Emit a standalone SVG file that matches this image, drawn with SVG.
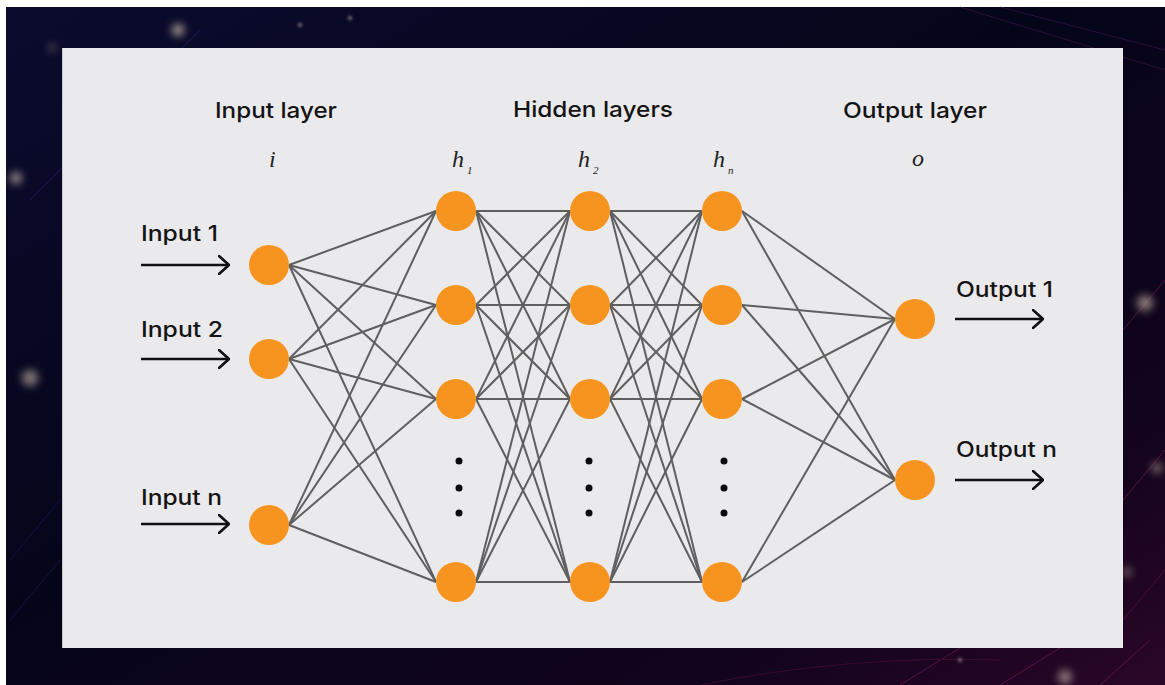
<svg xmlns="http://www.w3.org/2000/svg" width="1165" height="685" viewBox="0 0 1165 685">
  <defs>
    <linearGradient id="bg" x1="0" y1="0" x2="1" y2="1">
      <stop offset="0" stop-color="#0b0b2e"/>
      <stop offset="0.45" stop-color="#05051a"/>
      <stop offset="0.8" stop-color="#12041c"/>
      <stop offset="1" stop-color="#2a0628"/>
    </linearGradient>
    <filter id="blur" x="-2" y="-2" width="5" height="5">
      <feGaussianBlur stdDeviation="4"/>
    </filter>
    <filter id="blur2" x="-1" y="-1" width="3" height="3">
      <feGaussianBlur stdDeviation="1.5"/>
    </filter>
    <marker id="arr" viewBox="0 0 12 20" refX="11" refY="10" markerWidth="12" markerHeight="20" markerUnits="userSpaceOnUse" orient="auto">
      <polyline points="1,1 11,10 1,19" fill="none" stroke="#111" stroke-width="2.6" stroke-linecap="round" stroke-linejoin="round"/>
    </marker>
    <style>
      .title { font-family: Inter, "Liberation Sans", sans-serif; font-weight: 500; font-size: 22px; fill: #141414; }
      .lbl { font-family: Inter, "Liberation Sans", sans-serif; font-weight: 500; font-size: 21px; fill: #141414; }
      .math { font-family: "Liberation Serif", "DejaVu Serif", serif; font-style: italic; font-size: 24px; fill: #222; }
      .sub { font-family: "Liberation Serif", "DejaVu Serif", serif; font-style: italic; font-size: 11px; fill: #222; }
      .node { fill: #F7941F; }
      .dot { fill: #0a0a0a; }
      .edge { stroke: #5f5f5f; stroke-width: 2; fill: none; }
      .arrow { stroke: #111; stroke-width: 2.6; fill: none; }
      .streak { stroke-width: 1; fill: none; }
    </style>
  </defs>

  <!-- background -->
  <rect x="0" y="0" width="1165" height="685" fill="#ffffff"/>
  <rect x="6" y="7" width="1159" height="678" fill="url(#bg)"/>
  <g class="streak" opacity="0.55">
    <line x1="30" y1="200" x2="200" y2="30" stroke="#2a2a8a"/>
    <line x1="10" y1="560" x2="60" y2="500" stroke="#2a1a60"/>
    <line x1="10" y1="620" x2="60" y2="560" stroke="#2a1a60"/>
    <line x1="1123" y1="330" x2="1165" y2="280" stroke="#8a1a6a"/>
    <line x1="1123" y1="500" x2="1165" y2="450" stroke="#8a1a6a"/>
    <line x1="1123" y1="620" x2="1165" y2="570" stroke="#6a1050"/>
    <line x1="900" y1="685" x2="960" y2="648" stroke="#8a1a6a"/>
    <line x1="1000" y1="685" x2="1060" y2="648" stroke="#8a1a6a"/>
    <line x1="1100" y1="685" x2="1150" y2="640" stroke="#8a1a6a"/>
    <path d="M700 685 Q 850 655 1000 660" stroke="#5a1040"/>
    <path d="M960 7 L1165 70" stroke="#4a1a50"/>
    <path d="M1000 7 L1165 50" stroke="#4a1a50"/>
  </g>
  <g fill="#d8c8b0">
    <circle cx="178" cy="30" r="6" filter="url(#blur)" opacity="0.8"/>
    <circle cx="52" cy="48" r="3" filter="url(#blur)" opacity="0.6"/>
    <circle cx="16" cy="178" r="6" filter="url(#blur)" opacity="0.7"/>
    <circle cx="30" cy="378" r="8" filter="url(#blur)" opacity="0.6"/>
    <circle cx="300" cy="25" r="2" filter="url(#blur2)" opacity="0.6"/>
    <circle cx="350" cy="18" r="2" filter="url(#blur2)" opacity="0.6"/>
    <circle cx="1145" cy="303" r="8" filter="url(#blur)" opacity="0.6"/>
    <circle cx="1157" cy="468" r="5" filter="url(#blur)" opacity="0.6"/>
    <circle cx="1127" cy="572" r="4" filter="url(#blur)" opacity="0.6"/>
    <circle cx="1065" cy="677" r="7" filter="url(#blur)" opacity="0.6"/>
    <circle cx="960" cy="660" r="2" filter="url(#blur2)" opacity="0.6"/>
  </g>

  <!-- panel -->
  <rect x="62" y="48" width="1061" height="600" fill="#EAEAEC"/>
  <line x1="62.5" y1="48" x2="62.5" y2="648" stroke="#c8c8cc" stroke-width="1"/>

  <!-- headings -->
  <g id="headings">
    <text class="title" x="215" y="118" textLength="122" lengthAdjust="spacingAndGlyphs">Input layer</text>
    <text class="title" x="513" y="117" textLength="160" lengthAdjust="spacingAndGlyphs">Hidden layers</text>
    <text class="title" x="843" y="118" textLength="144" lengthAdjust="spacingAndGlyphs">Output layer</text>
    <text class="math" x="269" y="167">i</text>
    <text class="math" x="452" y="167">h</text><text class="sub" x="467" y="174">1</text>
    <text class="math" x="578" y="167">h</text><text class="sub" x="593" y="174">2</text>
    <text class="math" x="713" y="167">h</text><text class="sub" x="728" y="174">n</text>
    <text class="math" x="912" y="166">o</text>
  </g>

  <!-- connectors -->
  <g id="connectors" class="edge">
    <!-- input -> h1 -->
    <line x1="289" y1="265" x2="436" y2="211"/>
    <line x1="289" y1="265" x2="436" y2="305"/>
    <line x1="289" y1="265" x2="436" y2="399"/>
    <line x1="289" y1="265" x2="436" y2="582"/>
    <line x1="289" y1="359" x2="436" y2="211"/>
    <line x1="289" y1="359" x2="436" y2="305"/>
    <line x1="289" y1="359" x2="436" y2="399"/>
    <line x1="289" y1="359" x2="436" y2="582"/>
    <line x1="289" y1="525" x2="436" y2="211"/>
    <line x1="289" y1="525" x2="436" y2="305"/>
    <line x1="289" y1="525" x2="436" y2="399"/>
    <line x1="289" y1="525" x2="436" y2="582"/>
    <!-- h1 -> h2 -->
    <line x1="476" y1="211" x2="570" y2="211"/>
    <line x1="476" y1="211" x2="570" y2="305"/>
    <line x1="476" y1="211" x2="570" y2="399"/>
    <line x1="476" y1="211" x2="570" y2="582"/>
    <line x1="476" y1="305" x2="570" y2="211"/>
    <line x1="476" y1="305" x2="570" y2="305"/>
    <line x1="476" y1="305" x2="570" y2="399"/>
    <line x1="476" y1="305" x2="570" y2="582"/>
    <line x1="476" y1="399" x2="570" y2="211"/>
    <line x1="476" y1="399" x2="570" y2="305"/>
    <line x1="476" y1="399" x2="570" y2="399"/>
    <line x1="476" y1="399" x2="570" y2="582"/>
    <line x1="476" y1="582" x2="570" y2="211"/>
    <line x1="476" y1="582" x2="570" y2="305"/>
    <line x1="476" y1="582" x2="570" y2="399"/>
    <line x1="476" y1="582" x2="570" y2="582"/>
    <!-- h2 -> hn -->
    <line x1="610" y1="211" x2="702" y2="211"/>
    <line x1="610" y1="211" x2="702" y2="305"/>
    <line x1="610" y1="211" x2="702" y2="399"/>
    <line x1="610" y1="211" x2="702" y2="582"/>
    <line x1="610" y1="305" x2="702" y2="211"/>
    <line x1="610" y1="305" x2="702" y2="305"/>
    <line x1="610" y1="305" x2="702" y2="399"/>
    <line x1="610" y1="305" x2="702" y2="582"/>
    <line x1="610" y1="399" x2="702" y2="211"/>
    <line x1="610" y1="399" x2="702" y2="305"/>
    <line x1="610" y1="399" x2="702" y2="399"/>
    <line x1="610" y1="399" x2="702" y2="582"/>
    <line x1="610" y1="582" x2="702" y2="211"/>
    <line x1="610" y1="582" x2="702" y2="305"/>
    <line x1="610" y1="582" x2="702" y2="399"/>
    <line x1="610" y1="582" x2="702" y2="582"/>
    <!-- hn -> output -->
    <line x1="742" y1="211" x2="895" y2="319"/>
    <line x1="742" y1="211" x2="895" y2="480"/>
    <line x1="742" y1="305" x2="895" y2="319"/>
    <line x1="742" y1="305" x2="895" y2="480"/>
    <line x1="742" y1="399" x2="895" y2="319"/>
    <line x1="742" y1="399" x2="895" y2="480"/>
    <line x1="742" y1="582" x2="895" y2="319"/>
    <line x1="742" y1="582" x2="895" y2="480"/>
  </g>

  <!-- input/output arrows -->
  <g id="io-arrows">
    <line class="arrow" x1="141" y1="265" x2="229" y2="265" marker-end="url(#arr)"/>
    <line class="arrow" x1="141" y1="359" x2="229" y2="359" marker-end="url(#arr)"/>
    <line class="arrow" x1="141" y1="524" x2="229" y2="524" marker-end="url(#arr)"/>
    <line class="arrow" x1="955" y1="319" x2="1043" y2="319" marker-end="url(#arr)"/>
    <line class="arrow" x1="955" y1="480" x2="1043" y2="480" marker-end="url(#arr)"/>
  </g>
  <g id="io-labels">
    <text class="lbl" x="141" y="241" textLength="77" lengthAdjust="spacingAndGlyphs">Input 1</text>
    <text class="lbl" x="141" y="337" textLength="82" lengthAdjust="spacingAndGlyphs">Input 2</text>
    <text class="lbl" x="141" y="505" textLength="81" lengthAdjust="spacingAndGlyphs">Input n</text>
    <text class="lbl" x="956" y="297" textLength="97" lengthAdjust="spacingAndGlyphs">Output 1</text>
    <text class="lbl" x="956" y="457" textLength="101" lengthAdjust="spacingAndGlyphs">Output n</text>
  </g>

  <!-- nodes -->
  <g id="node-in1"><circle class="node" cx="269" cy="265" r="20"/></g>
  <g id="node-in2"><circle class="node" cx="269" cy="359" r="20"/></g>
  <g id="node-inn"><circle class="node" cx="269" cy="525" r="20"/></g>

  <g id="node-h1-1"><circle class="node" cx="456" cy="211" r="20"/></g>
  <g id="node-h1-2"><circle class="node" cx="456" cy="305" r="20"/></g>
  <g id="node-h1-3"><circle class="node" cx="456" cy="399" r="20"/></g>
  <g id="node-h1-dots"><circle class="dot" cx="459" cy="461" r="3.5"/><circle class="dot" cx="459" cy="488" r="3.5"/><circle class="dot" cx="459" cy="513" r="3.5"/></g>
  <g id="node-h1-n"><circle class="node" cx="456" cy="582" r="20"/></g>

  <g id="node-h2-1"><circle class="node" cx="590" cy="211" r="20"/></g>
  <g id="node-h2-2"><circle class="node" cx="590" cy="305" r="20"/></g>
  <g id="node-h2-3"><circle class="node" cx="590" cy="399" r="20"/></g>
  <g id="node-h2-dots"><circle class="dot" cx="589" cy="461" r="3.5"/><circle class="dot" cx="589" cy="488" r="3.5"/><circle class="dot" cx="589" cy="513" r="3.5"/></g>
  <g id="node-h2-n"><circle class="node" cx="590" cy="582" r="20"/></g>

  <g id="node-hn-1"><circle class="node" cx="722" cy="211" r="20"/></g>
  <g id="node-hn-2"><circle class="node" cx="722" cy="305" r="20"/></g>
  <g id="node-hn-3"><circle class="node" cx="722" cy="399" r="20"/></g>
  <g id="node-hn-dots"><circle class="dot" cx="724" cy="461" r="3.5"/><circle class="dot" cx="724" cy="488" r="3.5"/><circle class="dot" cx="724" cy="513" r="3.5"/></g>
  <g id="node-hn-n"><circle class="node" cx="722" cy="582" r="20"/></g>

  <g id="node-out1"><circle class="node" cx="915" cy="319" r="20"/></g>
  <g id="node-outn"><circle class="node" cx="915" cy="480" r="20"/></g>
</svg>
